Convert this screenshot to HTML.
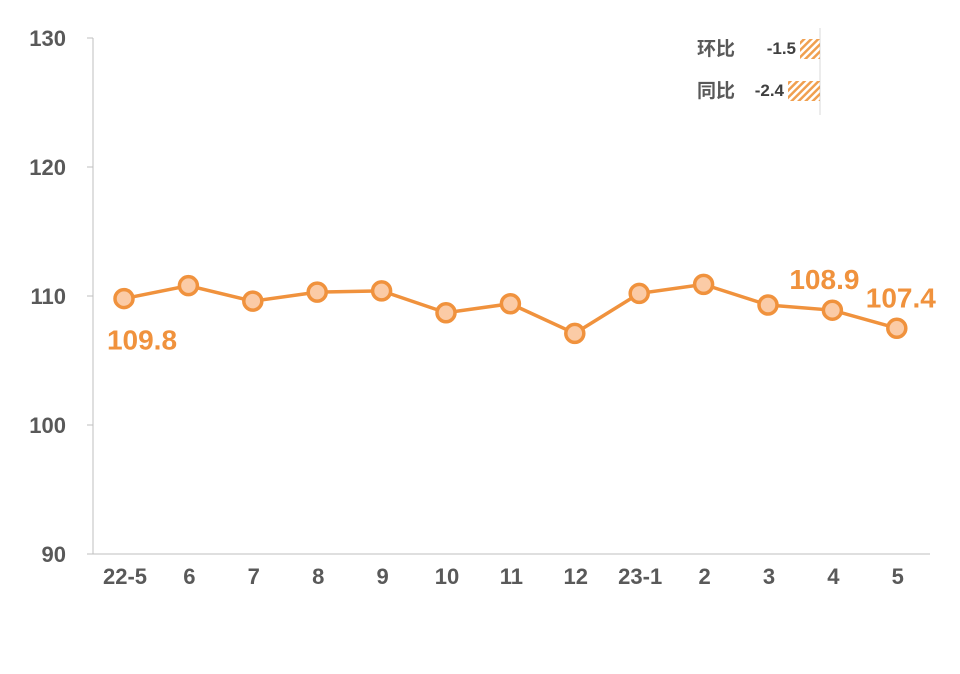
<!DOCTYPE html>
<html><head><meta charset="utf-8"><style>
body{margin:0;background:#fff}
svg{display:block;font-family:"Liberation Sans","Noto Sans CJK SC",sans-serif}
</style></head><body>
<svg id="c" width="960" height="674">
<defs><pattern id="h" width="5" height="5" patternUnits="userSpaceOnUse" patternTransform="rotate(45)"><rect width="2.5" height="5" fill="#f0a050"/></pattern></defs>
<g id="g"></g>
</svg>
<script>
const categories=["22-5","6","7","8","9","10","11","12","23-1","2","3","4","5"];
const values=[109.8,110.8,109.6,110.3,110.4,108.7,109.4,107.1,110.2,110.9,109.3,108.9,107.5];
const yTicks=[90,100,110,120,130];
const labels=[[0,"109.8",18,41],[11,"108.9",-8,-31],[12,"107.4",4,-31]];
const ns="http://www.w3.org/2000/svg",g=document.getElementById('g');
const x=i=>124+i*64.4, y=v=>554-(v-90)*12.9;
function el(t,a,txt){const e=document.createElementNS(ns,t);for(const k in a)e.setAttribute(k,a[k]);if(txt!=null)e.textContent=txt;g.appendChild(e);return e;}
let e=el('line',{x1:93,y1:38,x2:93,y2:554,stroke:'#bfbfbf'});

e=el('line',{x1:93,y1:554,x2:930,y2:554,stroke:'#bfbfbf'});

yTicks.forEach(t=>{const e=el('line',{x1:87,y1:y(t),x2:93,y2:y(t),stroke:'#bfbfbf'});

const l=el('text',{x:66,y:y(t)+8,'text-anchor':'end','font-size':22,'font-weight':'bold',fill:'#595959'},t);
});
categories.forEach((c,i)=>{const l=el('text',{x:x(i)+1,y:584,'text-anchor':'middle','font-size':22,'font-weight':'bold',fill:'#595959'},c);
});
e=el('polyline',{points:values.map((v,i)=>x(i)+','+y(v)).join(' '),fill:'none',stroke:'#f0923d','stroke-width':3.5});

values.forEach((v,i)=>{const p=el('circle',{cx:x(i),cy:y(v),r:9,fill:'#fbcba6',stroke:'#f0923d','stroke-width':3.5});
});
labels.forEach(([i,t,dx,dy])=>{const l=el('text',{x:x(i)+dx,y:y(values[i])+dy+10,'text-anchor':'middle','font-size':28,'font-weight':'bold',fill:'#f0923d'},t);
});
e=el('line',{x1:820,y1:28,x2:820,y2:115,stroke:'#d9d9d9'});

[["环比","-1.5",48,800,20],["同比","-2.4",90,788,32]].forEach(([n,v,cy,bx,bw])=>{
let t=el('text',{x:697,y:cy+7,'font-size':19,'font-weight':'bold',fill:'#595959'},n);

t=el('text',{x:bx-4,y:cy+6,'text-anchor':'end','font-size':17,'font-weight':'bold',fill:'#404040'},v);

t=el('rect',{x:bx,y:cy-9,width:bw,height:20,fill:'url(#h)'});
});
</script>
</body></html>
